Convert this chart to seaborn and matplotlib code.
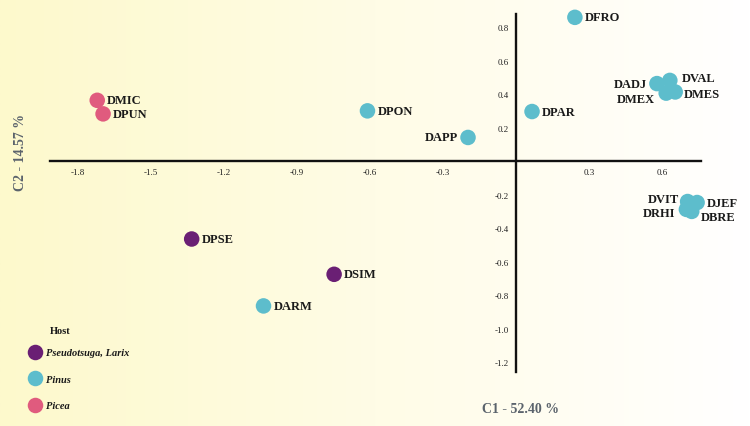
import matplotlib
matplotlib.use("Agg")
import matplotlib.pyplot as plt
import seaborn as sns
import numpy as np
import pandas as pd
from matplotlib.colors import LinearSegmentedColormap

# species codes, coordinates on the first two components, host
names = ["DFRO", "DADJ", "DVAL", "DMEX", "DMES", "DMIC", "DPUN", "DPON", "DPAR", "DAPP",
         "DVIT", "DJEF", "DRHI", "DBRE", "DPSE", "DSIM", "DARM"]
c1 = [0.242, 0.579, 0.632, 0.617, 0.654, -1.72, -1.696, -0.61, 0.066, -0.197,
      0.705, 0.744, 0.70, 0.722, -1.332, -0.747, -1.037]
c2 = [0.86, 0.464, 0.483, 0.407, 0.414, 0.364, 0.283, 0.301, 0.297, 0.142,
      -0.241, -0.247, -0.288, -0.30, -0.465, -0.676, -0.865]
host = ["Pinus"] * 5 + ["Picea"] * 2 + ["Pinus"] * 7 + ["Pseudotsuga, Larix"] * 2 + ["Pinus"]

host_order = ["Pseudotsuga, Larix", "Pinus", "Picea"]
host_colors = ["#6a1f74", "#5dbdcc", "#e05b7e"]

xticks = [-1.8, -1.5, -1.2, -0.9, -0.6, -0.3, 0.3, 0.6]
yticks = [0.8, 0.6, 0.4, 0.2, -0.2, -0.4, -0.6, -0.8, -1.0, -1.2]

df = pd.DataFrame({"name": names, "C1": c1, "C2": c2, "Host": host})

# label offsets in pixels (dx, dy), left side labels are right-aligned
left_labels = {"DAPP": (-10, 0), "DADJ": (-10, 0), "DMEX": (-11, -6),
               "DVIT": (-9, 3), "DRHI": (-11, -4)}
right_labels = {"DVAL": (12, 2), "DMES": (9, -2), "DJEF": (10, 0), "DBRE": (9, -6)}

sns.set_style("white")
plt.rcParams["font.family"] = ["Liberation Serif", "DejaVu Serif"]

fig = plt.figure(figsize=(7.5, 4.27), dpi=100)

# yellow to white background
bg = fig.add_axes([0, 0, 1, 1], zorder=-5)
grad = np.linspace(0, 1, 256).reshape(1, -1)
cmap = LinearSegmentedColormap.from_list("bg", ["#fdf9cc", "#fffce6", "#ffffff"])
bg.imshow(grad, aspect="auto", cmap=cmap, extent=[0, 1, 0, 1])
bg.axis("off")

ax = fig.add_axes([50 / 750, 1 - 373 / 427, 651 / 750, 358 / 427])
ax.patch.set_alpha(0)

sns.scatterplot(data=df, x="C1", y="C2", hue="Host", hue_order=host_order,
                palette=host_colors, s=125, edgecolor="none", ax=ax, zorder=3,
                clip_on=False)

ax.set_xlim(-1.914, 0.76)
ax.set_ylim(-1.26, 0.88)

for sp in ["top", "right"]:
    ax.spines[sp].set_visible(False)
ax.spines["left"].set_position(("data", 0))
ax.spines["bottom"].set_position(("data", 0))
for sp in ["left", "bottom"]:
    ax.spines[sp].set_linewidth(1.7)
    ax.spines[sp].set_color("#111111")

ax.set_xticks(xticks)
ax.set_yticks(yticks)
ax.set_xticklabels([f"{t:.1f}" for t in xticks])
ax.set_yticklabels([f"{t:.1f}" for t in yticks])
ax.tick_params(axis="both", direction="out", length=3, width=1.7, labelsize=6.5,
               color="#111111", labelcolor="#222222", pad=2)
ax.set_xlabel("")
ax.set_ylabel("")

for n, x, y in zip(names, c1, c2):
    if n in left_labels:
        dx, dy = left_labels[n]
        ha = "right"
    else:
        dx, dy = right_labels.get(n, (10, 0))
        ha = "left"
    ax.annotate(n, (x, y), xytext=(dx * 0.72, dy * 0.72), textcoords="offset points",
                ha=ha, va="center", fontsize=9, fontweight="bold", color="#1a1a1a",
                annotation_clip=False, zorder=4)

fig.text(521 / 750, 1 - 410 / 427, "C1 - 52.40 %", ha="center", va="center",
         fontsize=10, fontweight="bold", color="#5b636c")
fig.text(21 / 750, 1 - 153 / 427, "C2 - 14.57 %", ha="center", va="center",
         rotation=90, fontsize=10, fontweight="bold", color="#5b636c")

# legend
fig.text(50 / 750, 1 - 332 / 427, "Host", ha="left", va="center",
         fontsize=7.5, fontweight="bold", color="#1a1a1a")
sns.move_legend(ax, loc="upper left", bbox_to_anchor=(24 / 750, 1 - 344 / 427),
                bbox_transform=fig.transFigure, frameon=False, title=None,
                fontsize=7.5, labelspacing=1.65, handletextpad=0.4, borderpad=0,
                handlelength=1.2)
for t in ax.get_legend().get_texts():
    t.set_fontstyle("italic")
    t.set_fontweight("bold")
    t.set_color("#1a1a1a")

fig.savefig("out.png", dpi=100)
